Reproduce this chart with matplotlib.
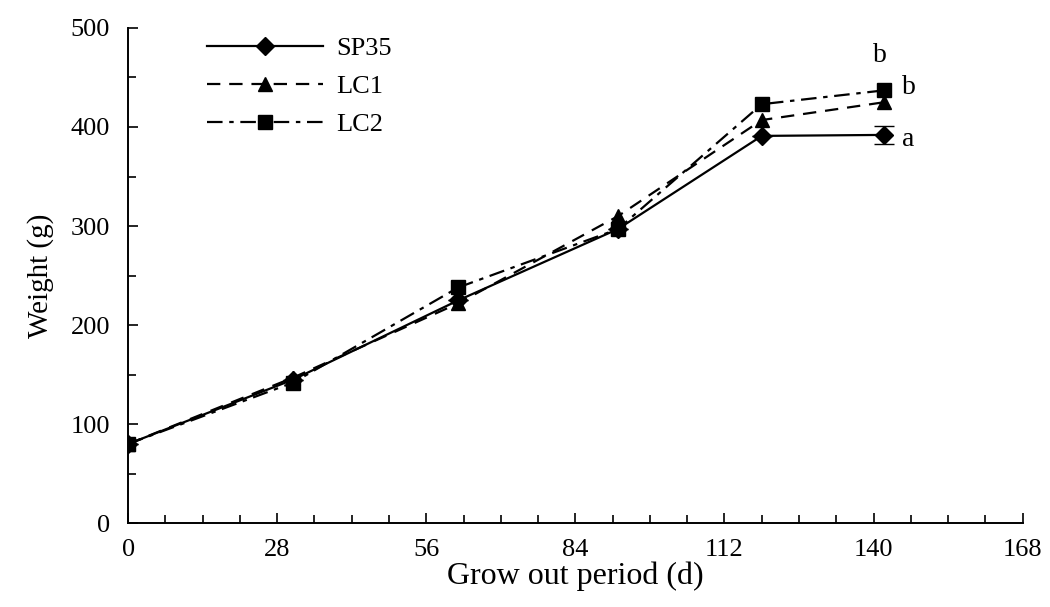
import numpy as np
import matplotlib.pyplot as plt
from matplotlib.ticker import MultipleLocator

# grow-out days and mean weights (g)
days = [0, 31, 62, 92, 119, 142]
sp35 = [80, 145, 225, 297, 391, 392]
lc1 = [80, 147, 222, 310, 407, 425]
lc2 = [80, 142, 238, 297, 423, 437]
sp35_err = [0, 0, 0, 0, 0, 9]

x_ticks = [0, 28, 56, 84, 112, 140, 168]
y_ticks = [0, 100, 200, 300, 400, 500]

plt.rcParams['font.family'] = ['Liberation Serif', 'DejaVu Serif']

fig = plt.figure(figsize=(10.5, 6.07), dpi=100)
ax = fig.add_axes([0.122, 0.138, 0.852, 0.816])

ax.errorbar(days, sp35, yerr=sp35_err, fmt='none', ecolor='black',
            capsize=7, elinewidth=1.4)
ax.plot(days, sp35, color='black', lw=1.6, ls='-',
        marker='D', ms=9, label='SP35')
ax.plot(days, lc1, color='black', lw=1.6, ls=(0, (6, 4)),
        marker='^', ms=10, label='LC1')
ax.plot(days, lc2, color='black', lw=1.6, ls=(0, (7, 3, 2, 3)),
        marker='s', ms=10.5, label='LC2')

# significance letters at final sampling
ax.annotate('b', (days[-1], lc2[-1]), xytext=(-3, 16), textcoords='offset points',
            ha='center', va='bottom', fontsize=20)
ax.annotate('b', (days[-1], lc2[-1]), xytext=(13, 2), textcoords='offset points',
            ha='left', va='center', fontsize=20)
ax.annotate('a', (days[-1], sp35[-1]), xytext=(13, -3), textcoords='offset points',
            ha='left', va='center', fontsize=20)

ax.set_xlim(0, 168)
ax.set_ylim(0, 500)
ax.set_xticks(x_ticks)
ax.set_yticks(y_ticks)
ax.xaxis.set_minor_locator(MultipleLocator(7))
ax.yaxis.set_minor_locator(MultipleLocator(50))
ax.tick_params(axis='both', which='both', direction='in', width=1.2, labelsize=19)
ax.tick_params(axis='both', which='major', length=7)
ax.tick_params(axis='both', which='minor', length=6)
ax.tick_params(axis='y', pad=13)
ax.tick_params(axis='x', pad=11)

for s in ['top', 'right']:
    ax.spines[s].set_visible(False)
for s in ['left', 'bottom']:
    ax.spines[s].set_linewidth(1.4)

ax.set_xlabel('Grow out period (d)', fontsize=23, labelpad=1)
ax.set_ylabel('Weight (g)', fontsize=21, labelpad=12)

ax.legend(loc='upper left', bbox_to_anchor=(0.062, 1.03), frameon=False,
          fontsize=19, handlelength=4.4, labelspacing=0.55, handletextpad=0.5)

fig.savefig('out.png', dpi=100)
